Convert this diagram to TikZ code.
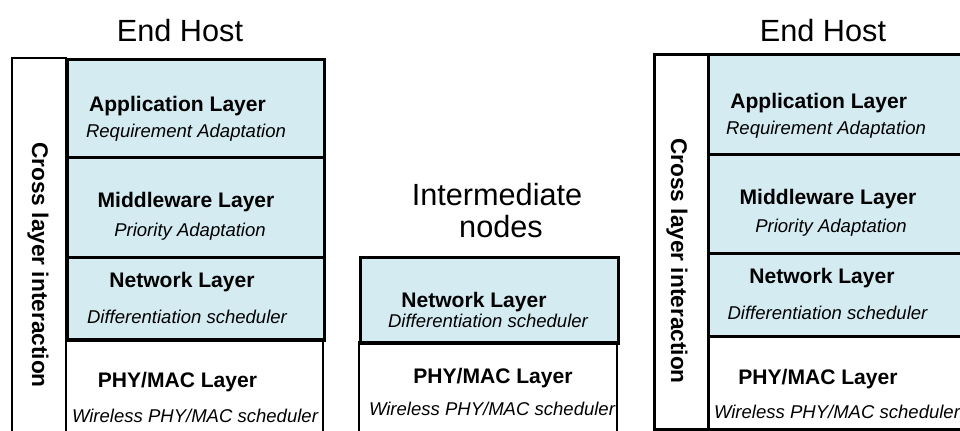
\documentclass[tikz,border=0pt]{standalone}
\usepackage{fontspec}
\setmainfont{Liberation Sans}
\definecolor{layerblue}{RGB}{212,235,242}
\begin{document}
\begin{tikzpicture}[x=0.75pt,y=-0.75pt,
  box/.style={draw=black,line width=1.9pt,inner sep=0pt},
  blue/.style={box,fill=layerblue},
  title/.style={font=\fontsize{23}{27}\selectfont,anchor=base,inner sep=0pt},
  lname/.style={font=\fontsize{15.8}{19}\selectfont\bfseries,anchor=base,inner sep=0pt},
  lsub/.style={font=\fontsize{13.9}{17}\selectfont\itshape,anchor=base,inner sep=0pt},
  side/.style={font=\fontsize{17}{20}\selectfont\bfseries,rotate=-90,inner sep=0pt}]
\useasboundingbox (0,0) rectangle (960,430);
\clip (0,0) rectangle (960,430);
% ---- left end host
\draw[box] (12,440) coordinate (lc1) -- (12,58) -- (66,58) -- (66,440);
\node[blue,fit/.style={},minimum width=257*0.75pt,minimum height=98*0.75pt,anchor=north west] (lapp) at (66,58) {};
\node[blue,minimum width=257*0.75pt,minimum height=100*0.75pt,anchor=north west] (lmid) at (66,156) {};
\node[blue,minimum width=257*0.75pt,minimum height=83*0.75pt,anchor=north west] (lnet) at (66,256) {};
\draw[box] (66,440) -- (66,339) coordinate (lphy) -- (323,339) -- (323,440);
\node[title] (lhost) at (180,41) {End Host};
\node[side] (lside) at (38,265) {Cross layer interaction};
\node[lname] (lappt) at (177.5,111.7) {Application Layer};
\node[lsub] (lapps) at (186,137) {Requirement Adaptation};
\node[lname] (lmidt) at (186,207) {Middleware Layer};
\node[lsub] (lmids) at (190,236) {Priority Adaptation};
\node[lname] (lnett) at (182,287) {Network Layer};
\node[lsub] (lnets) at (187,323) {Differentiation scheduler};
\node[lname] (lphyt) at (177.5,387) {PHY/MAC Layer};
\node[lsub] (lphys) at (195,422) {Wireless PHY/MAC scheduler};
% ---- intermediate nodes
\node[blue,minimum width=258*0.75pt,minimum height=86*0.75pt,anchor=north west] (mnet) at (359,256) {};
\draw[box] (359,440) -- (359,342) -- (617,342) -- (617,440);
\node[title] (mt1) at (497,205) {Intermediate};
\node[title] (mt2) at (501,237) {nodes};
\node[lname] (mnett) at (474,307) {Network Layer};
\node[lsub] (mnets) at (488,327) {Differentiation scheduler};
\node[lname] (mphyt) at (493,383) {PHY/MAC Layer};
\node[lsub] (mphys) at (492,415) {Wireless PHY/MAC scheduler};
% ---- right end host
\node[box,minimum width=54*0.75pt,minimum height=375*0.75pt,anchor=north west] (rcol) at (653,53) {};
\node[blue,minimum width=268*0.75pt,minimum height=100*0.75pt,anchor=north west] (rapp) at (707,53) {};
\node[blue,minimum width=268*0.75pt,minimum height=99*0.75pt,anchor=north west] (rmid) at (707,153) {};
\node[blue,minimum width=268*0.75pt,minimum height=83*0.75pt,anchor=north west] (rnet) at (707,252) {};
\node[box,minimum width=268*0.75pt,minimum height=93*0.75pt,anchor=north west] (rphy) at (707,335) {};
\node[title] (rhost) at (823,41) {End Host};
\node[side] (rside) at (677,261) {Cross layer interaction};
\node[lname] (rappt) at (818.7,108) {Application Layer};
\node[lsub] (rapps) at (826,134) {Requirement Adaptation};
\node[lname] (rmidt) at (828,204) {Middleware Layer};
\node[lsub] (rmids) at (831,232) {Priority Adaptation};
\node[lname] (rnett) at (822,283) {Network Layer};
\node[lsub] (rnets) at (827.5,319) {Differentiation scheduler};
\node[lname] (rphyt) at (818,384) {PHY/MAC Layer};
\node[lsub] (rphys) at (837,418) {Wireless PHY/MAC scheduler};
\end{tikzpicture}
\end{document}
